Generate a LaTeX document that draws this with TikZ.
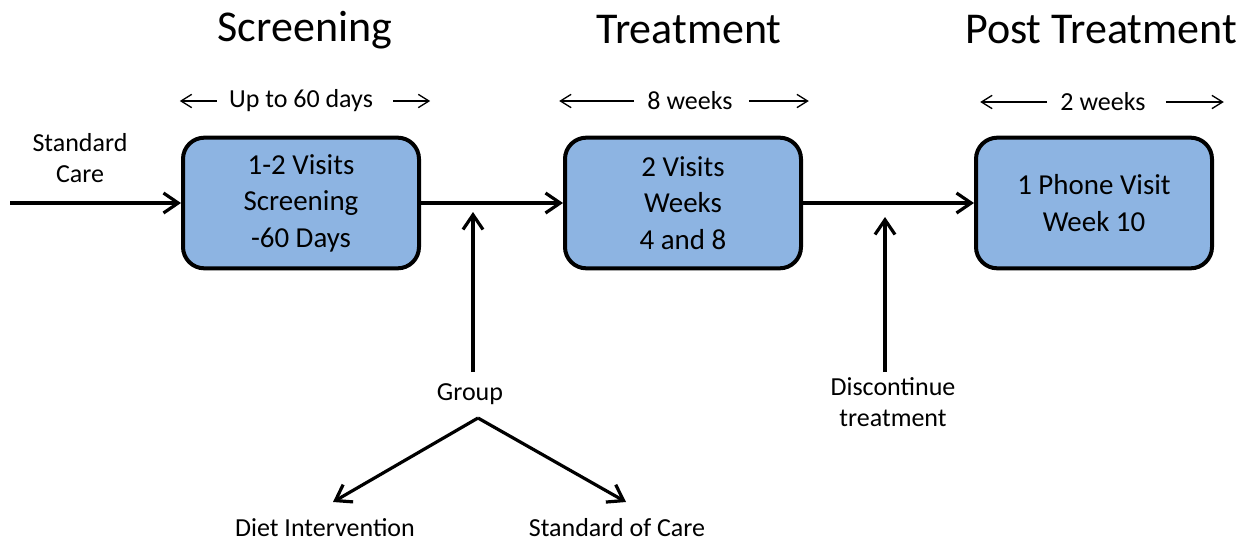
\documentclass[tikz,border=0pt]{standalone}
\usepackage{fontspec}
\setmainfont{Carlito}
\usetikzlibrary{arrows.meta}
\definecolor{visitblue}{RGB}{141,180,226}
\tikzset{
  visit/.style={draw, fill=visitblue, line width=3pt, rounded corners=16pt,
    minimum width=177pt, minimum height=98pt, align=center,
    font=\fontsize{21.7}{27.4}\selectfont},
  phase/.style={font=\fontsize{33}{38}\selectfont},
  note/.style={align=center, inner sep=0pt, font=\fontsize{19.5}{23}\selectfont},
  flow/.style={line width=2.4pt, -{Straight Barb[length=11pt,width=15pt]}},
  span/.style={line width=1pt, -{Straight Barb[length=8pt,width=10pt]}}
}

\begin{document}
\begin{tikzpicture}[x=0.75pt,y=-0.75pt]
\useasboundingbox (0,0) rectangle (1257,544);
% phases
\node[phase] (t1) at (305,30) {Screening};
\node[phase] (t2) at (689,30) {Treatment};
\node[phase] (t3) at (1101,30) {Post Treatment};
% durations
\node[note] (d1) at (301,101) {Up to 60 days};
\node[note] (d2) at (690,101) {8 weeks};
\node[note] (d3) at (1103,102) {2 weeks};
\draw[span] (d1.west) ++(-12,0) -- ++(-37,0);
\draw[span] (d1.east) ++(20,0) -- ++(37,0);
\draw[span] (d2.west) ++(-13,0) -- ++(-75,0);
\draw[span] (d2.east) ++(16,0) -- ++(60,0);
\draw[span] (d3.west) ++(-13,0) -- ++(-67,0);
\draw[span] (d3.east) ++(20,0) -- ++(58,0);
% visits
\node[visit] (screen) at (301,203) {1-2 Visits\\Screening\\-60 Days};
\node[visit] (treat) at (683,203) {2 Visits\\Weeks\\4 and 8};
\node[visit] (post) at (1094,203) {1 Phone Visit\\Week 10};
\node[note] (care) at (80,158) {Standard\\Care};
\coordinate (start) at (10,203);
\draw[flow] (start) -- (screen);
\draw[flow] (screen) -- (treat);
\draw[flow] (treat) -- (post);
% group and discontinue
\node[note] (group) at (470,394) {Group};
\coordinate (gtip) at (473,212);
\draw[flow] (473,372) -- (gtip);
\node[note] (disc) at (893,402) {Discontinue\\treatment};
\coordinate (dtip) at (885,217);
\draw[flow] (885,372) -- (dtip);
\node[note] (diet) at (325,528) {Diet Intervention};
\node[note] (soc) at (617,528) {Standard of Care};
\coordinate (fork) at (478,418);
\draw[flow] (fork) -- (333,502);
\draw[flow] (fork) -- (626,502);
\end{tikzpicture}
\end{document}
